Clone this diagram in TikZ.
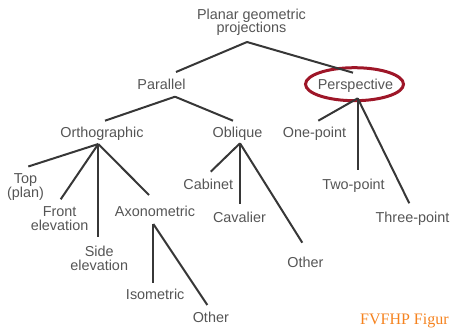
\documentclass[tikz,border=0pt]{standalone}
\usepackage{fontspec}
\setmainfont{Liberation Sans}
\newfontfamily\figfont{Liberation Serif}
\usetikzlibrary{positioning}

\definecolor{labelgray}{RGB}{85,85,85}
\definecolor{linegray}{RGB}{55,55,55}
\definecolor{ringred}{RGB}{158,22,40}
\definecolor{figorange}{RGB}{245,130,30}

\tikzset{
  term/.style={draw=none, inner sep=0pt, text=labelgray,
    font=\fontsize{14.4}{13.7}\selectfont, text height=10.5pt, text depth=3pt},
  termtwo/.style={draw=none, inner sep=0pt, text=labelgray, align=center,
    font=\fontsize{14.4}{13.7}\selectfont},
  branch/.style={draw=linegray, line width=2pt},
  ring/.style={draw=ringred, line width=3pt}
}

\begin{document}
\begin{tikzpicture}[x=1pt,y=-1pt]
\useasboundingbox (0,0) rectangle (452,329);
\clip (0,0) rectangle (452,329);

\node[termtwo](root) at (251.5,22.4){Planar geometric\\projections};
\node[term](par) at (161.5,86.2){Parallel};
\node[term](persp) at (355.5,86.2){Perspective};
\node[term](ortho) at (102,133.7){Orthographic};
\node[term](obl) at (237.5,133.7){Oblique};
\node[term](onept) at (314.5,133.7){One-point};
\node[term](twopt) at (353.5,185.5){Two-point};
\node[term](threept) at (412.5,218.5){Three-point};
\node[termtwo](top) at (25.5,187.2){Top\\(plan)};
\node[termtwo](front) at (59.6,218.4){Front\\elevation};
\node[termtwo](side) at (99.2,258.3){Side\\elevation};
\node[term](axo) at (155,213){Axonometric};
\node[term](iso) at (155.2,296.2){Isometric};
\node[term](othaxo) at (210.8,318.5){Other};
\node[term](cab) at (208.3,185.5){Cabinet};
\node[term](cav) at (239.5,218.5){Cavalier};
\node[term](othobl) at (305.3,263.5){Other};
\node[draw=none, anchor=base west, inner sep=0pt, text=figorange,
  font=\figfont\fontsize{16}{16}\selectfont](fig) at (360,324){FVFHP Figur};

\draw[ring] ([shift={(-1,-2)}]persp.center) ellipse [x radius=49, y radius=16.5];

\draw[branch] ([shift={(-4.5,19.6)}]root.center) -- ([shift={(14.5,-14.2)}]par.center);
\draw[branch] ([shift={(-4.5,19.6)}]root.center) -- ([shift={(-2.5,-13.5)}]persp.center);

\draw[branch] ([shift={(13.5,10.5)}]par.center) -- ([shift={(3,-13)}]ortho.center);
\draw[branch] ([shift={(13.5,10.5)}]par.center) -- ([shift={(-4.5,-13)}]obl.center);

\draw[branch] ([shift={(2.2,12.1)}]persp.center) -- ([shift={(3.8,-13)}]onept.center);
\draw[branch] ([shift={(2.2,12.1)}]persp.center) -- ([shift={(4.2,-15.5)}]twopt.center);
\draw[branch] ([shift={(2.2,12.1)}]persp.center) -- ([shift={(-3.2,-15.2)}]threept.center);

\draw[branch] ([shift={(-3.7,10.3)}]ortho.center) -- ([shift={(2.8,-20.7)}]top.center);
\draw[branch] ([shift={(-3.7,10.3)}]ortho.center) -- ([shift={(1.1,-19.1)}]front.center);
\draw[branch] ([shift={(-3.7,10.3)}]ortho.center) -- ([shift={(-0.9,-21.6)}]side.center);
\draw[branch] ([shift={(-3.7,10.3)}]ortho.center) -- ([shift={(-6,-18)}]axo.center);

\draw[branch] ([shift={(2.5,9.6)}]obl.center) -- ([shift={(2.4,-13.8)}]cab.center);
\draw[branch] ([shift={(2.5,9.6)}]obl.center) -- ([shift={(0.5,-14.5)}]cav.center);
\draw[branch] ([shift={(2.5,9.6)}]obl.center) -- ([shift={(-3,-20.8)}]othobl.center);

\draw[branch] ([shift={(-1.7,11)}]axo.center) -- ([shift={(-1.9,-13.5)}]iso.center);
\draw[branch] ([shift={(-1.7,11)}]axo.center) -- ([shift={(-3.5,-13.5)}]othaxo.center);

\end{tikzpicture}
\end{document}
